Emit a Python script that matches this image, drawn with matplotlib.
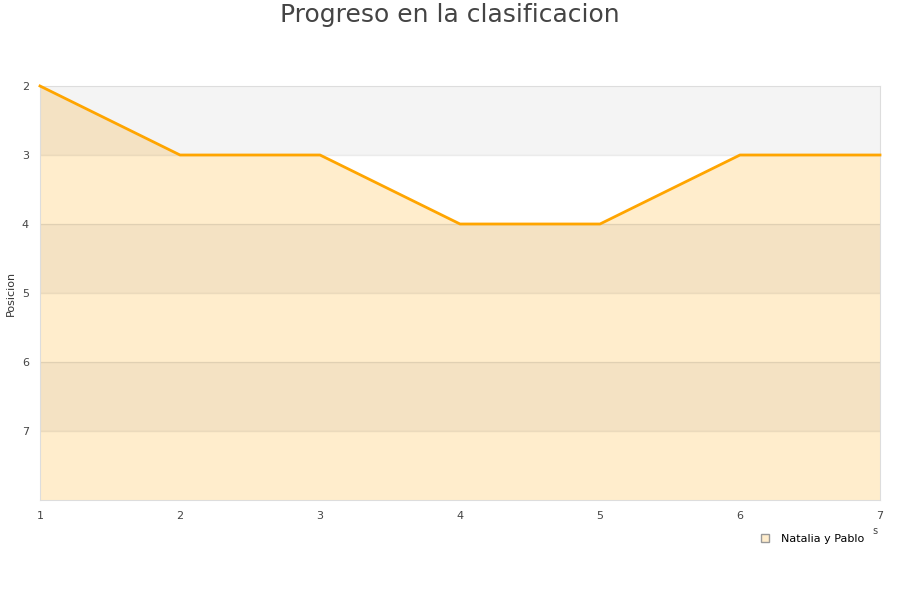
import matplotlib
matplotlib.use("Agg")
import matplotlib.pyplot as plt
from matplotlib.lines import Line2D

# data
jornadas = [1, 2, 3, 4, 5, 6, 7]
posicion = [2, 3, 3, 4, 4, 3, 3]
serie = "Natalia y Pablo"
y_ticks = [2, 3, 4, 5, 6, 7]

fig = plt.figure(figsize=(9, 6), dpi=100)
ax = fig.add_axes([40 / 900, 1 - 500 / 600, 840 / 900, 414 / 600])

ax.set_xlim(1, 7)
ax.set_ylim(8, 2)

# area under the line
ax.fill_between(jornadas, posicion, 8, color="#ffedcc", zorder=1, linewidth=0)

# alternating bands
for lo in [2, 4, 6]:
    ax.axhspan(lo, lo + 1, color="black", alpha=0.045, zorder=2, linewidth=0)
for y in range(3, 8):
    ax.axhline(y, color="black", alpha=0.08, linewidth=1, zorder=2)

ax.plot(jornadas, posicion, color="#ffa500", linewidth=2, zorder=3, clip_on=False)

ax.set_xticks(jornadas)
ax.set_yticks(y_ticks)
ax.tick_params(length=0, labelsize=8, labelcolor="#444444", pad=8)
for s in ax.spines.values():
    s.set_color("#dddddd")

fig.text(11 / 900, 1 - 293 / 600, "Posicion", rotation=90, fontsize=8,
         color="#333333", ha="center", va="center")

fig.text(0.5, 1 - 15 / 600, "Progreso en la clasificacion", fontsize=18,
         color="#444444", ha="center", va="center")

fig.text(875 / 900, 1 - 531 / 600, "s", fontsize=7, color="#444444", ha="center", va="center")

handle = Line2D([], [], marker="s", linestyle="none", markersize=6,
                markerfacecolor="#ffedcc", markeredgecolor="#999999")
fig.legend([handle], [serie], loc="center", bbox_to_anchor=(809 / 900, 1 - 539 / 600),
           frameon=False, fontsize=8, handletextpad=0.4)

fig.savefig("out.png", dpi=100)
